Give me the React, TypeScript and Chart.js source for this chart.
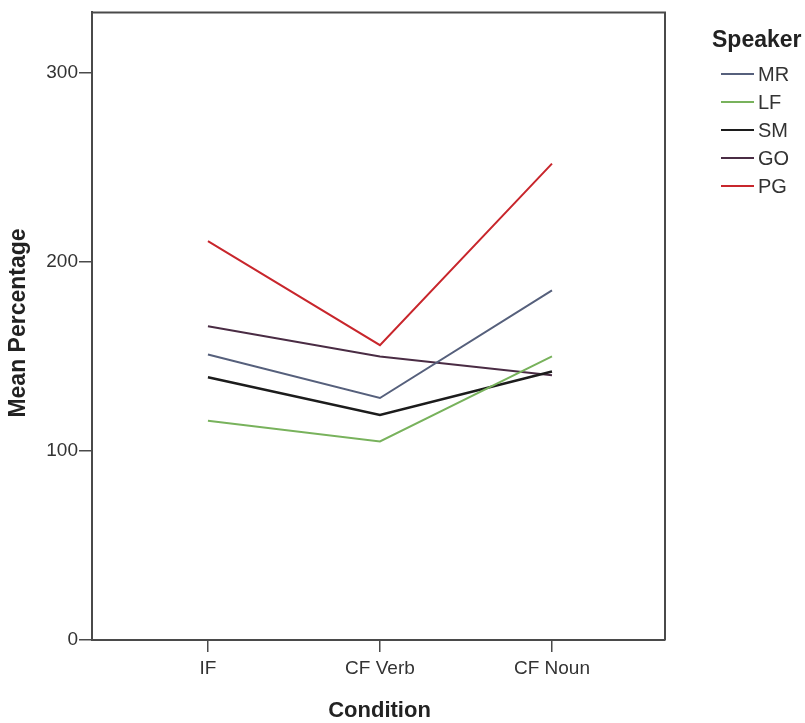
import React, { useEffect, useRef } from "react";
import { Chart, registerables } from "chart.js";

Chart.register(...registerables);

const conditions = ["IF", "CF Verb", "CF Noun"];
const speakers = ["MR", "LF", "SM", "GO", "PG"];
const mrValues = [151, 128, 185];
const lfValues = [116, 105, 150];
const smValues = [139, 119, 142];
const goValues = [166, 150, 140];
const pgValues = [211, 156, 252];
const yTicks = [0, 100, 200, 300];
const speakerColors = ["#56607c", "#78b25c", "#1c1c1c", "#4a2c44", "#c8262c"];
const seriesValues = [mrValues, lfValues, smValues, goValues, pgValues];

const FONT = "'Liberation Sans', Arial, sans-serif";

export default function App() {
  const ref = useRef<HTMLCanvasElement | null>(null);

  useEffect(() => {
    if (!ref.current) return;
    const overlay = {
      id: "overlay",
      afterDraw(chart: any) {
        const ctx = chart.ctx;
        const a = chart.chartArea;
        ctx.save();
        // frame top and right
        ctx.strokeStyle = "#4a4a4a";
        ctx.lineWidth = 2;
        ctx.beginPath();
        ctx.moveTo(a.left, a.top);
        ctx.lineTo(a.right, a.top);
        ctx.lineTo(a.right, a.bottom);
        ctx.stroke();
        // axis titles
        ctx.fillStyle = "#222";
        ctx.font = `bold 22px ${FONT}`;
        ctx.textAlign = "center";
        ctx.textBaseline = "middle";
        ctx.fillText("Condition", (a.left + a.right) / 2 + 1, 711);
        ctx.save();
        ctx.translate(19, 323);
        ctx.rotate(-Math.PI / 2);
        ctx.font = `bold 23px ${FONT}`;
        ctx.fillText("Mean Percentage", 0, 0);
        ctx.restore();
        // legend
        ctx.textAlign = "left";
        ctx.font = `bold 23px ${FONT}`;
        ctx.fillText("Speaker", 712, 41);
        ctx.font = `20px ${FONT}`;
        chart.data.datasets.forEach((ds: any, i: number) => {
          const y = 74 + 28 * i;
          ctx.strokeStyle = ds.borderColor;
          ctx.lineWidth = 2;
          ctx.beginPath();
          ctx.moveTo(721, y);
          ctx.lineTo(754, y);
          ctx.stroke();
          ctx.fillStyle = "#333";
          ctx.fillText(ds.label, 758, y + 1);
        });
        ctx.restore();
      },
    };

    const chart = new Chart(ref.current, {
      type: "line",
      data: {
        datasets: speakers.map((s, i) => ({
          label: s,
          data: seriesValues[i].map((v, j) => ({ x: j, y: v })),
          borderColor: speakerColors[i],
          backgroundColor: speakerColors[i],
          borderWidth: i === 2 ? 2.5 : 2,
          pointRadius: 0,
          tension: 0,
          fill: false,
        })),
      },
      options: {
        animation: false,
        responsive: false,
        layout: { padding: { left: 0, right: 140, top: 10, bottom: 0 } },
        plugins: { legend: { display: false }, tooltip: { enabled: false } },
        scales: {
          x: {
            type: "linear",
            min: -0.674,
            max: 2.657,
            afterFit: (s: any) => {
              s.height = 83;
            },
            afterBuildTicks: (s: any) => {
              s.ticks = conditions.map((_, i) => ({ value: i }));
            },
            ticks: {
              callback: (v: any) => conditions[Math.round(Number(v))] ?? "",
              font: { family: FONT, size: 19 },
              color: "#333",
              padding: 5,
              maxRotation: 0,
              autoSkip: false,
            },
            grid: {
              drawOnChartArea: false,
              drawTicks: true,
              tickLength: 12,
              color: "#4a4a4a",
              lineWidth: 1.5,
            },
            border: { display: true, color: "#4a4a4a", width: 2 },
          },
          y: {
            type: "linear",
            min: 0,
            max: 332,
            afterFit: (s: any) => {
              s.width = 92;
            },
            afterBuildTicks: (s: any) => {
              s.ticks = yTicks.map((v) => ({ value: v }));
            },
            ticks: {
              font: { family: FONT, size: 19 },
              color: "#333",
              padding: 1,
            },
            grid: {
              drawOnChartArea: false,
              drawTicks: true,
              tickLength: 13,
              color: "#4a4a4a",
              lineWidth: 1.5,
            },
            border: { display: true, color: "#4a4a4a", width: 2 },
          },
        },
      },
      plugins: [overlay],
    });
    return () => chart.destroy();
  }, []);

  return (
    <div style={{ position: "absolute", left: 0, top: 0, width: 805, height: 723, background: "#fff" }}>
      <canvas ref={ref} width={805} height={723} style={{ width: 805, height: 723 }} />
    </div>
  );
}
